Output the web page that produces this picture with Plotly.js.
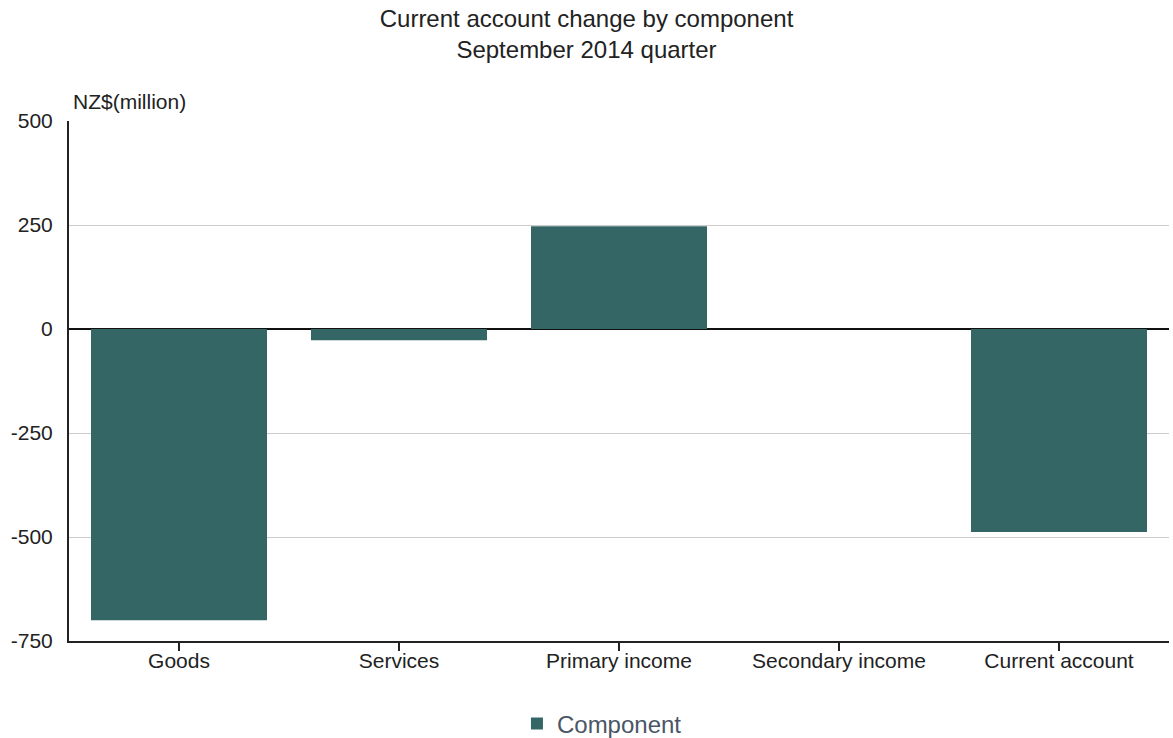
<!DOCTYPE html>
<html>
<head>
<meta charset="utf-8">
<script src="https://cdn.plot.ly/plotly-3.0.1.min.js"></script>
<style>html,body{margin:0;padding:0;background:#fff;}#chart{width:1173px;height:738px;}</style>
</head>
<body>
<div id="chart"></div>
<script>
const categories = ["Goods", "Services", "Primary income", "Secondary income", "Current account"];
const componentValues = [-700, -27, 247, 0, -488];
const seriesName = "Component";
const yTickValues = [-750, -500, -250, 0, 250, 500];
const yTickLabels = ["-750", "-500", "-250", "0", "250", "500"];

const font = "Liberation Sans, Arial, sans-serif";

const trace = {
  type: "bar",
  x: categories,
  y: componentValues,
  name: seriesName,
  marker: {color: "#346666", line: {color: "#b9d0d0", width: 0}},
  showlegend: true,
  hoverinfo: "x+y"
};

const layout = {
  width: 1173,
  height: 738,
  margin: {l: 69, r: 4, t: 121, b: 97, autoexpand: false},
  paper_bgcolor: "#ffffff",
  plot_bgcolor: "#ffffff",
  font: {family: font, color: "#222222", size: 21},
  title: {
    text: "Current account change by component<br>September 2014 quarter",
    x: 0.5, xanchor: "center",
    yref: "container", y: 0.964, yanchor: "top",
    font: {family: font, size: 24, color: "#222222"}
  },
  bargap: 0.2,
  xaxis: {
    type: "category",
    automargin: false,
    showline: true, linecolor: "#222222", linewidth: 2,
    ticks: "outside", ticklen: 8, tickcolor: "#222222", tickwidth: 1.5,
    ticklabelstandoff: -8,
    showgrid: false, zeroline: false,
    tickfont: {family: font, size: 21, color: "#222222"},
    fixedrange: true
  },
  yaxis: {
    automargin: false,
    range: [-750, 500],
    tickvals: yTickValues,
    ticktext: yTickLabels,
    showline: true, linecolor: "#222222", linewidth: 2,
    ticks: "outside", ticklen: 10, tickcolor: "rgba(0,0,0,0)",
    showgrid: true, gridcolor: "#cccccc", gridwidth: 1,
    zeroline: true, zerolinecolor: "#111111", zerolinewidth: 2,
    tickfont: {family: font, size: 21, color: "#222222"},
    fixedrange: true
  },
  legend: {
    orientation: "h",
    x: 0.4845, xanchor: "center",
    yref: "container", y: 0.019, yanchor: "middle",
    font: {family: font, size: 24, color: "#4a5566"}
  },
  annotations: [{
    text: "NZ$(million)",
    xref: "paper", yref: "paper",
    x: 0, y: 1, xanchor: "left", yanchor: "bottom",
    xshift: 2, yshift: 6,
    showarrow: false,
    font: {family: font, size: 21, color: "#222222"}
  }]
};

Plotly.newPlot("chart", [trace], layout, {displayModeBar: false, staticPlot: true});
</script>
</body>
</html>
